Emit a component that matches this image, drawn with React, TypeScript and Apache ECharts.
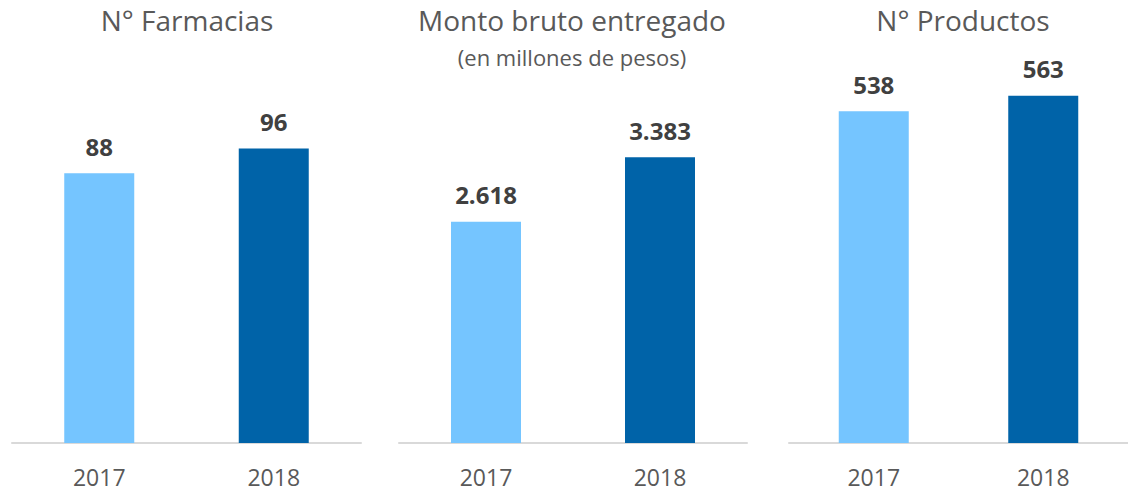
import React, { useEffect, useRef } from "react";
import * as echarts from "echarts";

const years = ["2017", "2018"];
const farmacias = [88, 96];
const monto = [2618, 3383];
const productos = [538, 563];
const titles = ["N° Farmacias", "Monto bruto entregado", "N° Productos"];
const subtitle = "(en millones de pesos)";
const barColors = ["#75C5FF", "#0063A8"];

const FONT = "'Open Sans', 'Noto Sans', sans-serif";

function fmt(v: number) {
  return String(v).replace(/\B(?=(\d{3})+(?!\d))/g, ".");
}

export default function App() {
  const ref = useRef<HTMLDivElement>(null);
  useEffect(() => {
    if (!ref.current) return;
    const chart = echarts.init(ref.current, undefined, { renderer: "svg" });
    const panels = [
      { data: farmacias, left: 12, width: 349, top: 75, max: 120 },
      { data: monto, left: 399, width: 348, top: 105, max: 4000 },
      { data: productos, left: 789, width: 348, top: 73, max: 600 },
    ];
    const centers = [187, 572, 963];
    chart.setOption({
      animation: false,
      backgroundColor: "#ffffff",
      title: [
        ...titles.map((t, i) => ({
          text: t,
          left: centers[i],
          top: 6,
          textAlign: "center",
          padding: 0,
          textStyle: { fontFamily: FONT, fontSize: 28, fontWeight: "normal", color: "#595959" },
        })),
        {
          text: subtitle,
          left: centers[1],
          top: 46,
          textAlign: "center",
          padding: 0,
          textStyle: { fontFamily: FONT, fontSize: 22, fontWeight: "normal", color: "#595959" },
        },
      ],
      grid: panels.map((p) => ({ left: p.left, width: p.width, top: p.top, bottom: 50 })),
      xAxis: panels.map((_, i) => ({
        type: "category",
        gridIndex: i,
        data: years,
        axisLine: { lineStyle: { color: "#D9D9D9", width: 2 } },
        axisTick: { show: false },
        axisLabel: { fontFamily: FONT, fontSize: 23, color: "#595959", margin: 22 },
      })),
      yAxis: panels.map((p, i) => ({
        type: "value",
        gridIndex: i,
        min: 0,
        max: p.max,
        show: false,
        splitLine: { show: false },
      })),
      series: panels.map((p, i) => ({
        type: "bar",
        xAxisIndex: i,
        yAxisIndex: i,
        barWidth: 70,
        data: p.data.map((v, j) => ({ value: v, itemStyle: { color: barColors[j] } })),
        label: {
          show: true,
          position: "top",
          distance: 15,
          fontFamily: FONT,
          fontSize: 24,
          fontWeight: "bold",
          color: "#404040",
          formatter: (d: any) => fmt(d.value),
        },
      })),
    });
    return () => chart.dispose();
  }, []);
  return (
    <div
      ref={ref}
      style={{ position: "fixed", left: 0, top: 0, width: 1128, height: 493 }}
    />
  );
}
